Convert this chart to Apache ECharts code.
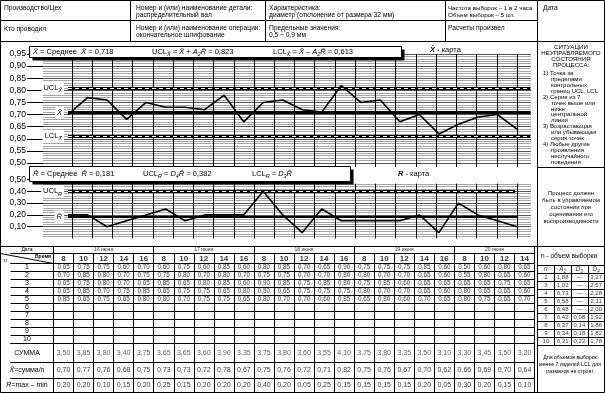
<!DOCTYPE html>
<html><head><meta charset="utf-8">
<script src="https://cdn.jsdelivr.net/npm/echarts@6.0.0/dist/echarts.min.js"></script>
<style>html,body{margin:0;padding:0;background:#fff;}#chart{width:605px;height:393px;}</style>
</head><body><div id="chart"></div>
<script>
// ---------------- DATA ----------------
const dates = ['16 июня', '17 июня', '18 июня', '19 июня', '20 июня'];
const times = [8,10,12,14,16, 8,10,12,14,16, 8,10,12,14,16, 8,10,12,14,16, 8,10,12,14];
const meas1 = [0.65,0.75,0.75,0.60,0.70,0.60,0.75,0.60,0.85,0.60,0.80,0.85, 0.70,0.65,0.90,0.75,0.75,0.75,0.85,0.60,0.50,0.60,0.80,0.65];
const meas2 = [0.70,0.85,0.80,0.70,0.75,0.75,0.80,0.70,0.80,0.70,0.75,0.75, 0.70,0.70,0.80,0.80,0.70,0.70,0.65,0.60,0.55,0.80,0.65,0.60];
const meas3 = [0.65,0.75,0.80,0.70,0.65,0.85,0.65,0.80,0.85,0.60,0.90,0.85, 0.75,0.85,0.80,0.75,0.85,0.60,0.65,0.65,0.65,0.65,0.75,0.65];
const meas4 = [0.65,0.85,0.70,0.75,0.85,0.65,0.75,0.75,0.65,0.80,0.50,0.65, 0.75,0.75,0.75,0.80,0.70,0.70,0.65,0.60,0.80,0.65,0.65,0.60];
const meas5 = [0.85,0.65,0.75,0.65,0.80,0.80,0.70,0.75,0.75,0.65,0.80,0.70, 0.70,0.60,0.85,0.65,0.80,0.60,0.70,0.65,0.80,0.75,0.65,0.70];
const sums   = [3.50,3.85,3.80,3.40,3.75,3.65,3.65,3.60,3.90,3.35,3.75,3.80, 3.60,3.55,4.10,3.75,3.80,3.35,3.50,3.10,3.30,3.45,3.50,3.20];
const means  = [0.70,0.77,0.76,0.68,0.75,0.73,0.73,0.72,0.78,0.67,0.75,0.76, 0.72,0.71,0.82,0.75,0.76,0.67,0.70,0.62,0.66,0.69,0.70,0.64];
const ranges = [0.20,0.20,0.10,0.15,0.20,0.25,0.15,0.20,0.20,0.20,0.40,0.20, 0.05,0.25,0.15,0.15,0.15,0.15,0.20,0.05,0.30,0.20,0.15,0.10];
const rowNumbers = ['1','2','3','4','5','6','7','8','9','10'];
// control-chart values (as printed) and line levels (as drawn)
const xMean = 0.718, uclX = 0.823, lclX = 0.613, rMean = 0.181, uclR = 0.382;
const drawnClX = 0.708, drawnUclX = 0.81, drawnLclX = 0.611, drawnClR = 0.185, drawnUclR = 0.40;
// coefficient table
const nSizes = [2,3,4,5,6,7,8,9,10];
const coefA2 = [1.88,1.02,0.73,0.58,0.48,0.42,0.37,0.34,0.31];
const coefD3 = [null,null,null,null,null,0.08,0.14,0.18,0.22];
const coefD4 = [3.27,2.57,2.28,2.11,2.00,1.92,1.86,1.82,1.78];

// ---------------- HELPERS ----------------
const FONT = '"Liberation Sans", Arial, Helvetica, sans-serif';
const fmt = v => v.toFixed(2).replace('.', ',');
const fmt3 = v => v.toFixed(3).replace('.', ',');
const XB = 'X\u0304', RB = 'R\u0304';
function rich(sz) {
  return {
    i:  {fontStyle:'italic', fontSize:sz, fontFamily:FONT, lineHeight:sz+3, color:'#000'},
    bi: {fontStyle:'italic', fontWeight:'bold', fontSize:sz, fontFamily:FONT, lineHeight:sz+3, color:'#000'},
    s:  {fontStyle:'italic', fontSize:Math.round(sz*0.72*10)/10, fontFamily:FONT, lineHeight:Math.round(sz*0.72*10)/10, verticalAlign:'bottom', color:'#000'}
  };
}
const grids = [], xAxis = [], yAxis = [], series = [], graphic = [];
function addGrid(g, xa, ya) {
  const i = grids.length;
  grids.push(Object.assign({containLabel:false}, g));
  xAxis.push(Object.assign({gridIndex:i}, xa));
  yAxis.push(Object.assign({gridIndex:i}, ya));
  return i;
}
const hidden = (min, max) => ({type:'value', min, max, show:false});

// ---------------- CHART LAYOUT ----------------
const PLOT_L = 43, PLOT_R = 531;
const PT0 = 68, PT_STEP = 19.52, XMIN = -0.5, XMAX = 23.7;
const dataLeft = PT0 + XMIN * PT_STEP, dataWidth = (XMAX - XMIN) * PT_STEP;
const XC_TOP = 54, XC_H = 109, RC_TOP = 179.5, RC_H = 59;

function stripesAxis(min, max, interval, labelFmt, custom) {
  const ax = {type:'value', min, max, interval, axisLine:{show:false},
    axisTick:{show:true, length:16, lineStyle:{color:'#000', width:1}},
    axisLabel:{margin:17, fontSize:8.5, fontFamily:FONT, color:'#000', formatter:labelFmt},
    splitLine:{show:true, lineStyle:{color:'#555', width:1}},
    minorTick:{show:false, splitNumber:5},
    minorSplitLine:{show:true, lineStyle:{color:'#a6a6a6', width:1}}};
  if (custom) { ax.axisTick.customValues = custom; ax.axisLabel.customValues = custom; }
  return ax;
}
// X-bar chart stripes + axis
addGrid({left:PLOT_L, top:XC_TOP, width:PLOT_R-PLOT_L, height:XC_H}, hidden(0,1),
  stripesAxis(0.5, 0.95, 0.05, v => fmt(v)));
// R chart stripes + axis
addGrid({left:PLOT_L, top:RC_TOP, width:PLOT_R-PLOT_L, height:RC_H}, hidden(0,1),
  stripesAxis(0, 0.5, 0.1, v => v === 0 ? '' : fmt(v), [0.1,0.2,0.3,0.4,0.5]));
// vertical grid lines
function vlines(top, height) {
  addGrid({left:51.8, top, width:485.4, height},
    {type:'value', min:-0.5, max:23.5, interval:1, axisLine:{show:false}, axisTick:{show:false}, axisLabel:{show:false},
     splitLine:{show:true, showMinLine:false, showMaxLine:false, lineStyle:{color:'#000', width:1}}},
    hidden(0,1));
}
vlines(54, 113);
vlines(183.5, 55);

const thick = {color:'#000', width:3, type:'solid'};
const dashWhite = {color:'#fff', width:1.2, type:[4,3]};
function lineItem(y, x0, x1, style, label) {
  return [{coord:[x0, y], lineStyle:style, label: label || {show:false}}, {coord:[x1, y]}];
}
function mlLabel(text) {
  return {show:true, position:'start', distance:4, formatter:text, backgroundColor:'#fff', padding:[1,2,1,2],
    fontSize:7.5, fontFamily:FONT, color:'#000', lineHeight:10.5, rich:rich(7.5)};
}
// X-bar data
const gXd = addGrid({left:dataLeft, top:XC_TOP, width:dataWidth, height:XC_H}, hidden(XMIN, XMAX), hidden(0.5, 0.95));
series.push({type:'line', xAxisIndex:gXd, yAxisIndex:gXd, data:means.map((v,i)=>[i,v]), symbol:'none', silent:true,
  lineStyle:{color:'#000', width:1.6}, z:5,
  markLine:{silent:true, symbol:['none','none'], animation:false, data:[
    lineItem(drawnClX, 0, XMAX, thick, mlLabel('{i|' + XB + '}')),
    lineItem(drawnUclX, 0, XMAX, thick, mlLabel('UCL{s|' + XB + '}')),
    lineItem(drawnUclX, 0, XMAX, dashWhite),
    lineItem(drawnLclX, 0, XMAX, thick, mlLabel('LCL{s|' + XB + '}')),
    lineItem(drawnLclX, 0, XMAX, dashWhite)
  ]}});
// R data
const gRd = addGrid({left:dataLeft, top:RC_TOP, width:dataWidth, height:RC_H}, hidden(XMIN, XMAX), hidden(0, 0.5));
series.push({type:'line', xAxisIndex:gRd, yAxisIndex:gRd, data:ranges.map((v,i)=>[i,v]), symbol:'none', silent:true,
  lineStyle:{color:'#000', width:1.6}, z:5,
  markLine:{silent:true, symbol:['none','none'], animation:false, data:[
    lineItem(drawnClR, 0, 23, {color:'#000', width:2, type:'solid'}, mlLabel('{i|' + RB + '}')),
    lineItem(drawnUclR, 0, 22.9, thick, mlLabel('UCL{s|R}')),
    lineItem(drawnUclR, 0, 22.9, dashWhite)
  ]}});

// ---------------- TABLE ----------------
const TL = 0.5, TX0 = 53.5, TX1 = 534.5;
function band(top, height, rowLabels, xInterval, cells, cellOpt, rowOpt, geom) {
  geom = geom || {left:TX0, width:TX1-TX0, xmin:-0.5, xmax:23.5, leftCol:true};
  const gi = addGrid({left:geom.left, top, width:geom.width, height, show:true, borderColor:'#000', borderWidth:1, backgroundColor:'transparent'},
    {type:'value', min:geom.xmin, max:geom.xmax, interval:xInterval, axisLine:{show:false}, axisTick:{show:false}, axisLabel:{show:false},
     splitLine:{show:true, showMinLine:false, showMaxLine:false, lineStyle:{color:'#000', width:1}}},
    {type:'category', data:rowLabels, inverse:true, axisLine:{show:false},
     axisTick:{show:geom.leftCol, length:TX0-TL, interval:0, lineStyle:{color:'#000', width:1}},
     axisLabel:Object.assign({show:geom.leftCol, interval:0, margin:(TX0-TL)/2, align:'center', fontSize:7, fontFamily:FONT, color:'#000', rich:rich(7)}, rowOpt || {}),
     splitLine:{show:true, interval:0, lineStyle:{color:'#000', width:1}}});
  series.push({type:'scatter', xAxisIndex:gi, yAxisIndex:gi, symbolSize:0, silent:true, z:6,
    data:cells.map(c => [c[0], c[1]]),
    label:Object.assign({show:true, position:'inside', formatter:p => cells[p.dataIndex][2], fontSize:6.3, fontFamily:FONT, color:'#000', rich:rich(6.3)}, cellOpt || {})});
  return gi;
}
const dateCells = dates.map((d, i) => [i < 4 ? i * 5 + 2 : 21.5, 0, d]);
band(246.5, 7, ['Дата'], 5, dateCells, {fontSize:5}, {fontSize:5});
band(253.5, 10, [''], 1, times.map((t, i) => [i, 0, String(t)]), {fontSize:8, fontWeight:'bold'});
const measCells = [];
[meas1, meas2, meas3, meas4, meas5].forEach((arr, r) => arr.forEach((v, c) => measCells.push([c, r, fmt(v)])));
band(263.5, 80, rowNumbers, 1, measCells, {fontSize:6.3}, {fontSize:7});
band(343.5, 19, ['СУММА'], 1, sums.map((v, i) => [i, 0, fmt(v)]), {fontSize:7, color:'#333'}, {fontSize:7});
band(362.5, 16, ['{i|' + XB + '}=сумма/n'], 1, means.map((v, i) => [i, 0, fmt(v)]), {fontSize:7}, {fontSize:7});
band(378.5, 14, ['{i|R}=max – min'], 1, ranges.map((v, i) => [i, 0, fmt(v)]), {fontSize:7}, {fontSize:7});
// coefficient table
const coefCells = [[0,0,'{i|n}'], [1,0,'{i|A}{s|2}'], [2,0,'{i|D}{s|3}'], [3,0,'{i|D}{s|4}']];
nSizes.forEach((n, k) => {
  coefCells.push([0, k+1, String(n)], [1, k+1, fmt(coefA2[k])], [2, k+1, coefD3[k] == null ? '—' : fmt(coefD3[k])], [3, k+1, fmt(coefD4[k])]);
});
band(265.5, 80, ['h'].concat(nSizes.map(String)), 1, coefCells, {fontSize:6}, {}, {left:537.5, width:67, xmin:-0.5, xmax:3.5, leftCol:false});

// ---------------- FORM GRAPHICS ----------------
function T(x, y, text, opt) {
  const sz = (opt && opt.fontSize) || 6.7;
  return {type:'text', x, y, z:60, silent:true,
    style:Object.assign({text, fill:'#000', fontSize:sz, fontFamily:FONT, align:'left', textAlign:'left', verticalAlign:'middle', textVerticalAlign:'middle', rich:rich(sz)}, opt || {})};
}
function L(x1, y1, x2, y2, w) {
  return {type:'line', z:55, silent:true, shape:{x1, y1, x2, y2}, style:{stroke:'#000', lineWidth:w || 1}};
}
function R(x, y, w, h, fill, stroke, z) {
  return {type:'rect', z, silent:true, shape:{x, y, width:w, height:h}, style:{fill, stroke:stroke || 'none', lineWidth:1}};
}
graphic.push(R(0.5, 0.5, 604, 392, 'none', '#000', 56));
graphic.push(L(0.5, 20.5, 537.5, 20.5), L(0.5, 41.5, 604.5, 41.5), L(130.5, 0.5, 130.5, 41.5), L(265.5, 0.5, 265.5, 41.5),
  L(445.5, 0.5, 445.5, 41.5), L(537.5, 0.5, 537.5, 392.5), L(0.5, 246.5, 604.5, 246.5), L(537.5, 167.5, 604.5, 167.5));
// header texts
graphic.push(
  T(4, 8, 'Производство/Цех'),
  T(136, 8, 'Номер и (или) наименование детали:'), T(136, 15.5, 'распределительный вал'),
  T(269, 8, 'Характеристика:'), T(269, 15.5, 'диаметр (отклонение от размера 32 мм)'),
  T(448, 8, 'Частота выборок – 1 в 2 часа', {fontSize:6.2}), T(448, 15.5, 'Объем выборок – 5 шт.', {fontSize:6.2}),
  T(543, 8, 'Дата'),
  T(4, 29, 'Кто проводил'),
  T(136, 28, 'Номер и (или) наименование операции:'), T(136, 35.5, 'окончательное шлифование'),
  T(269, 28, 'Предельные значения:'), T(269, 35.5, '0,5 ÷ 0,9 мм'),
  T(448, 28, 'Расчеты произвел'));
// chart header boxes
graphic.push(R(32.5, 49.5, 372, 11, '#000', null, 50), R(29.5, 46.5, 372, 11, '#fff', '#000', 51));
graphic.push(R(32.5, 169.5, 321, 15, '#000', null, 50), R(29.5, 166.5, 321, 15, '#fff', '#000', 51));
graphic.push(R(354, 167.8, 181, 15.4, '#fff', null, 45));
graphic.push(
  T(33, 52, '{i|' + XB + '} = Среднее  {i|' + XB + '} = ' + fmt3(xMean), {fontSize:7.5}),
  T(152, 52, 'UCL{s|' + XB + '} = {i|' + XB + '} + {i|A}{s|2}{i|' + RB + '} = ' + fmt3(uclX), {fontSize:7.5}),
  T(273, 52, 'LCL{s|' + XB + '} = {i|' + XB + '} – {i|A}{s|2}{i|' + RB + '} = ' + fmt3(lclX), {fontSize:7.5}),
  T(430, 50, '{bi|' + XB + '} - карта', {fontSize:7.5}),
  T(33, 174, '{i|' + RB + '} = Среднее  {i|' + RB + '} = ' + fmt3(rMean), {fontSize:7.5}),
  T(143, 174, 'UCL{s|R} = {i|D}{s|4}{i|' + RB + '} = ' + fmt3(uclR), {fontSize:7.5}),
  T(252, 174, 'LCL{s|R} = {i|D}{s|3}{i|' + RB + '}', {fontSize:7.5}),
  T(398, 174, '{bi|R} - карта', {fontSize:7.5}));
// table corner cell
graphic.push(L(0.5, 253.5, 53.5, 263.5), T(43, 256.3, 'Время', {fontSize:5, fontWeight:'bold', align:'center', textAlign:'center'}),
  T(4, 260.5, 'n', {fontSize:5.5}));
// right panel
const panelTitle = ['СИТУАЦИИ', 'НЕУПРАВЛЯЕМОГО', 'СОСТОЯНИЯ', 'ПРОЦЕССА:'];
const panelItems = [['1) Точка за', 'пределами', 'контрольных', 'границ UCL, LCL'],
  ['2) Серия из 7', 'точек выше или', 'ниже', 'центральной', 'линии'],
  ['3) Возрастающая', 'или убывающая', 'серия точек'],
  ['4) Любые другие', 'проявления', 'неслучайного', 'поведения']];
const C = {align:'center', textAlign:'center'};
panelTitle.forEach((t, k) => graphic.push(T(571, 47 + 6.2 * k, t, Object.assign({fontSize:6.2}, C))));
let ln = 0;
panelItems.forEach(item => item.forEach((t, k) => { graphic.push(T(k === 0 ? 543 : 551, 73.5 + 5.9 * ln, t, {fontSize:6})); ln++; }));
['Процесс должен', 'быть в управляемом', 'состоянии при', 'оценивании его', 'воспроизводимости']
  .forEach((t, k) => graphic.push(T(571, 193 + 7 * k, t, Object.assign({fontSize:6}, C))));
graphic.push(T(569, 256, 'n - объем выборки', Object.assign({fontSize:6.5}, C)));
['Для объемов выборок', 'менее 7 изделий LCL для', 'размахов не строят']
  .forEach((t, k) => graphic.push(T(570, 358 + 6.8 * k, t, Object.assign({fontSize:5.2}, C))));

const chart = echarts.init(document.getElementById('chart'), null, {renderer:'canvas'});
chart.setOption({animation:false, backgroundColor:'#fff', grid:grids, xAxis, yAxis, series, graphic:{elements:graphic}});
</script>
</body></html>
